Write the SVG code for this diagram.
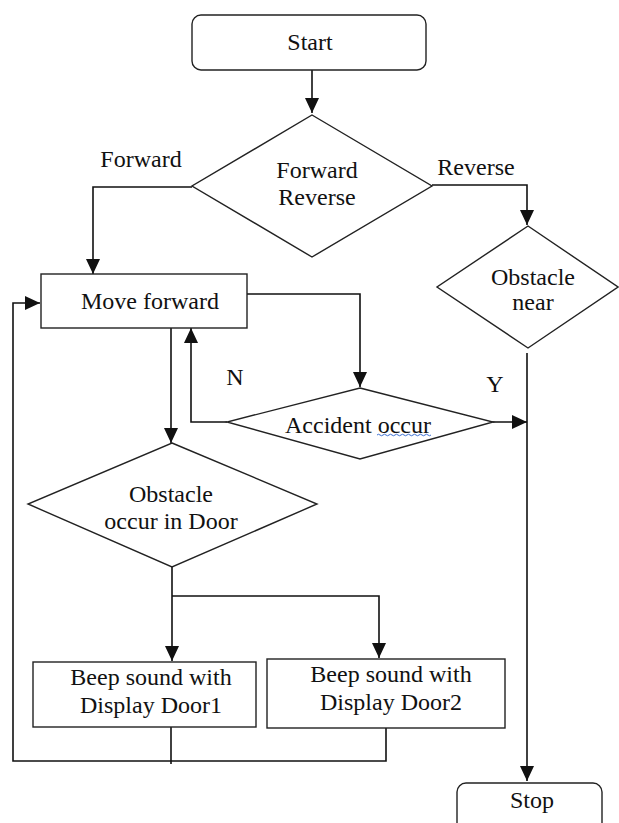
<svg xmlns="http://www.w3.org/2000/svg" width="619" height="823" viewBox="0 0 619 823">
<style>
.shape{fill:#fff;stroke:#222;stroke-width:1.4}
.conn{fill:none;stroke:#111;stroke-width:1.6}
.t{font-family:"Liberation Serif","Times New Roman",serif;font-size:24px;fill:#111;text-anchor:middle}
</style>
<defs>
<marker id="ah" markerUnits="userSpaceOnUse" markerWidth="16" markerHeight="14" refX="15" refY="7" orient="auto">
<path d="M0,0 L15,7 L0,14 z" fill="#111"/>
</marker>
</defs>
<rect width="619" height="823" fill="#fff"/>
<g id="connectors">
<path class="conn" d="M312,70 V113" marker-end="url(#ah)"/>
<path class="conn" d="M192,187 H93 V274" marker-end="url(#ah)"/>
<path class="conn" d="M432,185 H527 V225" marker-end="url(#ah)"/>
<path class="conn" d="M527,353 V781" marker-end="url(#ah)"/>
<path class="conn" d="M247,294 H360 V387" marker-end="url(#ah)"/>
<path class="conn" d="M227,422 H191 V328" marker-end="url(#ah)"/>
<path class="conn" d="M493,422 H527" marker-end="url(#ah)"/>
<path class="conn" d="M171,328 V443" marker-end="url(#ah)"/>
<path class="conn" d="M172,567 V661" marker-end="url(#ah)"/>
<path class="conn" d="M172,596 H379 V658" marker-end="url(#ah)"/>
<path class="conn" d="M171,727 V764"/>
<path class="conn" d="M386,728 V761 H13 V303 H40" marker-end="url(#ah)"/>
</g>
<g id="start">
<rect class="shape" x="192" y="15" width="234" height="55" rx="9"/>
<text class="t" x="310" y="50">Start</text>
</g>
<g id="dir-decision">
<polygon class="shape" points="312,115 432,186 312,257 192,186"/>
<text class="t" x="317" y="178">Forward</text>
<text class="t" x="317" y="205">Reverse</text>
</g>
<g id="label-forward"><text class="t" x="141" y="167">Forward</text></g>
<g id="label-reverse"><text class="t" x="476" y="175">Reverse</text></g>
<g id="obstacle-near">
<polygon class="shape" points="528,226 618,287 528,348 437,287"/>
<text class="t" x="533" y="285">Obstacle</text>
<text class="t" x="533" y="310">near</text>
</g>
<g id="move-forward">
<rect class="shape" x="41" y="274" width="206" height="54"/>
<text class="t" x="150" y="309">Move forward</text>
</g>
<g id="accident">
<polygon class="shape" points="360,388 493,422 360,459 227,422"/>
<text class="t" x="358" y="433">Accident occur</text>
<path d="M377,435 q1.5,-1.5 3,0 t3,0 t3,0 t3,0 t3,0 t3,0 t3,0 t3,0 t3,0 t3,0 t3,0 t3,0 t3,0 t3,0 t3,0 t3,0 t3,0 t3,0" fill="none" stroke="#3b6fd1" stroke-width="1"/>
</g>
<g id="label-n"><text class="t" x="235" y="385">N</text></g>
<g id="label-y"><text class="t" x="495" y="392">Y</text></g>
<g id="obstacle-door">
<polygon class="shape" points="172,443 317,504 172,567 28,504"/>
<text class="t" x="171" y="502">Obstacle</text>
<text class="t" x="171" y="529">occur in Door</text>
</g>
<g id="beep-door1">
<rect class="shape" x="33" y="662" width="223" height="65"/>
<text class="t" x="151" y="685">Beep sound with</text>
<text class="t" x="151" y="713">Display Door1</text>
</g>
<g id="beep-door2">
<rect class="shape" x="267" y="659" width="238" height="69"/>
<text class="t" x="391" y="682">Beep sound with</text>
<text class="t" x="391" y="710">Display Door2</text>
</g>
<g id="stop">
<rect class="shape" x="457" y="783" width="145" height="60" rx="9"/>
<text class="t" x="532" y="808">Stop</text>
</g>
</svg>
